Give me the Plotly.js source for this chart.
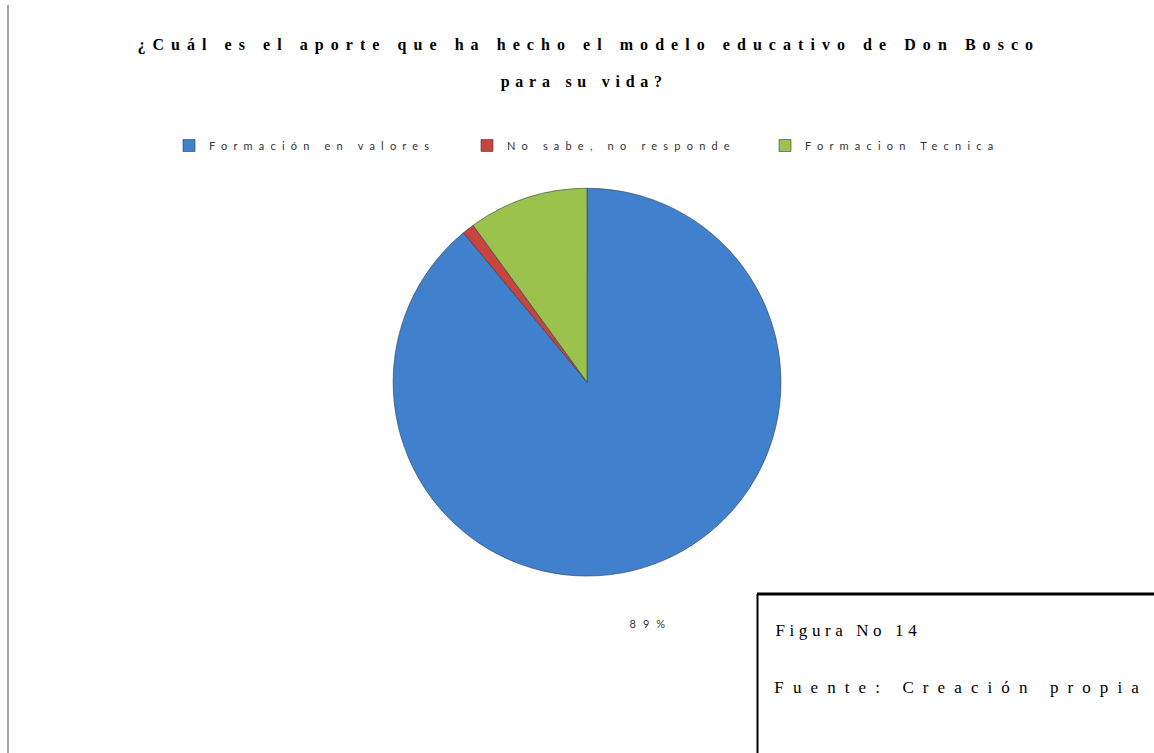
<!DOCTYPE html>
<html>
<head>
<meta charset="utf-8">
<script src="https://cdn.plot.ly/plotly-3.0.1.min.js"></script>
<style>
  html, body { margin: 0; padding: 0; background: #ffffff; }
  #chart { width: 1154px; height: 753px; }
  .legendtext { letter-spacing: 6.2px; }
  .annotation[data-index="0"] text { letter-spacing: 7.05px; }
  .annotation[data-index="1"] text { letter-spacing: 5.75px; }
  .annotation[data-index="2"] text { letter-spacing: 7px; }
  .annotation[data-index="3"] text { letter-spacing: 4.6px; }
  .annotation[data-index="4"] text { letter-spacing: 9.1px; }
</style>
</head>
<body>
<div id="chart"></div>
<script>
const categories = ["Formación en valores", "No sabe, no responde", "Formacion Tecnica"];
const values = [89, 1, 10];
const colors = ["#4080cc", "#c8443e", "#9cc24e"];
const titleLines = ["¿Cuál es el aporte que ha hecho el modelo educativo de Don Bosco", "para su vida?"];
const boxLines = ["Figura No 14", "Fuente: Creación propia"];

const total = values.reduce((a, b) => a + b, 0);
const mainLabel = Math.round(values[0] / total * 100) + "%";

const trace = {
  type: "pie",
  labels: categories,
  values: values,
  sort: false,
  direction: "clockwise",
  rotation: 0,
  textinfo: "none",
  hoverinfo: "none",
  marker: { colors: colors, line: { color: "rgba(45,60,80,0.6)", width: 1 } },
  domain: { x: [0.3406, 0.6768], y: [0.235, 0.750] }
};

const serif = "Liberation Serif, Times New Roman, serif";
const sans = "Lato, Liberation Sans, Arial, sans-serif";
const W = 1154, H = 753;

const layout = {
  width: W,
  height: H,
  margin: { l: 0, r: 0, t: 0, b: 0 },
  paper_bgcolor: "#ffffff",
  plot_bgcolor: "#ffffff",
  showlegend: true,
  legend: {
    orientation: "h",
    x: 169 / W, xanchor: "left",
    y: 0.826, yanchor: "top",
    font: { family: sans, size: 11, color: "#333333" },
    entrywidth: 253,
    entrywidthmode: "pixels",
    itemclick: false,
    itemdoubleclick: false
  },
  annotations: [
    { text: "<b>" + titleLines[0] + "</b>", xref: "paper", yref: "paper", x: 588.5 / W, y: 1 - 45 / H,
      xanchor: "center", yanchor: "middle", showarrow: false, font: { family: serif, size: 16, color: "#000000" } },
    { text: "<b>" + titleLines[1] + "</b>", xref: "paper", yref: "paper", x: 584.4 / W, y: 1 - 82 / H,
      xanchor: "center", yanchor: "middle", showarrow: false, font: { family: serif, size: 16, color: "#000000" } },
    { text: mainLabel, xref: "paper", yref: "paper", x: 650.5 / W, y: 1 - 623 / H,
      xanchor: "center", yanchor: "middle", showarrow: false, font: { family: sans, size: 11, color: "#333333" } },
    { text: boxLines[0], xref: "paper", yref: "paper", x: 848.8 / W, y: 1 - 630 / H,
      xanchor: "center", yanchor: "middle", showarrow: false, font: { family: serif, size: 17, color: "#000000" } },
    { text: boxLines[1], xref: "paper", yref: "paper", x: 961.5 / W, y: 1 - 687 / H,
      xanchor: "center", yanchor: "middle", showarrow: false, font: { family: serif, size: 17, color: "#000000" } }
  ],
  shapes: [
    { type: "line", xref: "paper", yref: "paper", x0: 8 / W, x1: 8 / W, y0: 0, y1: 1 - 5 / H,
      line: { color: "#8a8a8a", width: 1.5 } },
    { type: "line", xref: "paper", yref: "paper", x0: 757 / W, x1: 1, y0: 1 - 594 / H, y1: 1 - 594 / H,
      line: { color: "#000000", width: 3 } },
    { type: "line", xref: "paper", yref: "paper", x0: 757.5 / W, x1: 757.5 / W, y0: 0, y1: 1 - 594 / H,
      line: { color: "#000000", width: 2 } }
  ]
};

Plotly.newPlot("chart", [trace], layout, { displayModeBar: false, staticPlot: true });
</script>
</body>
</html>
